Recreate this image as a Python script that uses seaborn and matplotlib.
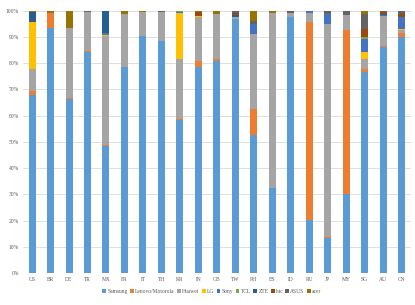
import matplotlib
matplotlib.use("Agg")
import matplotlib.pyplot as plt
import seaborn as sns
import pandas as pd
import numpy as np
from matplotlib.patches import Patch

countries = ["US", "BR", "DE", "TR", "MX", "FR", "IT", "TH", "KR", "IN", "GB",
             "TW", "PH", "ES", "ID", "RU", "JP", "MY", "SG", "AU", "CN"]

samsung = [68.0, 93.3, 66.5, 84.4, 48.4, 78.7, 90.5, 88.6, 58.5, 78.7, 81.0,
           96.9, 52.7, 32.3, 97.4, 20.2, 13.5, 30.1, 76.7, 86.2, 90.0]
lenovo = [1.3, 6.0, 0.3, 0.3, 0.4, 0.0, 0.0, 0.0, 0.2, 2.3, 0.5,
          0.0, 9.8, 0.0, 0.0, 75.3, 0.3, 62.6, 1.1, 0.3, 1.3]
huawei = [8.4, 0.0, 26.5, 14.9, 41.4, 20.0, 9.0, 10.9, 22.9, 16.6, 17.3,
          0.8, 28.6, 66.8, 1.7, 3.8, 81.2, 5.8, 3.8, 11.3, 1.4]
lg = [18.1, 0.0, 0.0, 0.0, 0.5, 0.0, 0.0, 0.0, 17.5, 0.4, 0.0,
      0.0, 0.0, 0.0, 0.0, 0.0, 0.0, 0.0, 2.6, 0.0, 0.3]
sony = [0.0, 0.0, 0.0, 0.0, 0.8, 0.0, 0.0, 0.0, 0.4, 0.0, 0.0,
        0.0, 3.9, 0.0, 0.0, 0.7, 4.1, 0.0, 5.1, 0.5, 4.6]
tcl = [0.0, 0.0, 0.0, 0.0, 0.0, 0.0, 0.0, 0.0, 0.5, 0.0, 0.0,
       0.0, 0.0, 0.0, 0.0, 0.0, 0.0, 0.0, 0.5, 0.0, 0.0]
zte = [3.8, 0.0, 0.0, 0.0, 8.5, 0.0, 0.0, 0.0, 0.0, 0.0, 0.0,
       0.5, 0.0, 0.0, 0.0, 0.0, 0.0, 0.0, 0.0, 0.3, 0.0]
htc = [0.0, 0.0, 0.0, 0.0, 0.0, 0.0, 0.0, 0.0, 0.0, 1.5, 0.0,
       1.0, 0.0, 0.0, 0.0, 0.0, 0.5, 0.0, 3.4, 1.0, 1.0]
asus = [0.0, 0.0, 0.0, 0.4, 0.0, 0.0, 0.0, 0.5, 0.0, 0.0, 0.0,
        0.8, 1.2, 0.0, 0.9, 0.0, 0.4, 1.3, 5.5, 0.4, 1.2]
acer = [0.4, 0.7, 6.7, 0.0, 0.0, 1.3, 0.5, 0.0, 0.0, 0.5, 1.2,
        0.0, 3.8, 0.9, 0.0, 0.0, 0.0, 0.2, 1.3, 0.0, 0.2]

brands = ["Samsung", "Lenovo/Motorola", "Huawei", "LG", "Sony", "TCL", "ZTE", "htc", "ASUS", "acer"]
colors = ["#5B9BD5", "#ED7D31", "#A5A5A5", "#FFC000", "#4472C4",
          "#70AD47", "#255E91", "#9E480E", "#636363", "#997300"]

df = pd.DataFrame(dict(zip(brands, [samsung, lenovo, huawei, lg, sony, tcl, zte, htc, asus, acer])),
                  index=countries)
cum = df.cumsum(axis=1)

sns.set_style("white")
plt.rcParams["font.family"] = ["Liberation Serif", "DejaVu Serif"]

fig = plt.figure(figsize=(4.15, 3.05), dpi=100)
ax = fig.add_axes([0.055, 0.105, 0.935, 0.86])

# stacked bars: draw cumulative totals from the top series down
for brand, col in zip(brands[::-1], colors[::-1]):
    sns.barplot(x=countries, y=cum[brand].values, color=col, width=0.38,
                saturation=1, linewidth=0, ax=ax, zorder=3)

ax.set_ylim(0, 100)
ax.set_xlim(-0.5, len(countries) - 0.5)
ax.set_yticks(np.arange(0, 101, 10))
ax.set_yticklabels([f"{v}%" for v in range(0, 101, 10)])
ax.yaxis.grid(True, color="#D9D9D9", linewidth=0.6, zorder=0)
ax.set_axisbelow(True)
for s in ax.spines.values():
    s.set_visible(False)
ax.axhline(0, color="#D9D9D9", linewidth=0.6, zorder=1)
ax.tick_params(axis="both", length=0, labelsize=4, colors="#595959", pad=3)
ax.set_xlabel("")
ax.set_ylabel("")

handles = [Patch(facecolor=c, edgecolor="none", label=b) for b, c in zip(brands, colors)]
fig.legend(handles=handles, loc="center", bbox_to_anchor=(0.51, 0.043), ncol=10,
           frameon=False, fontsize=4, handlelength=0.7, handleheight=0.7,
           handletextpad=0.2, columnspacing=0.45, labelcolor="#595959")

fig.savefig("out.png", dpi=100)
